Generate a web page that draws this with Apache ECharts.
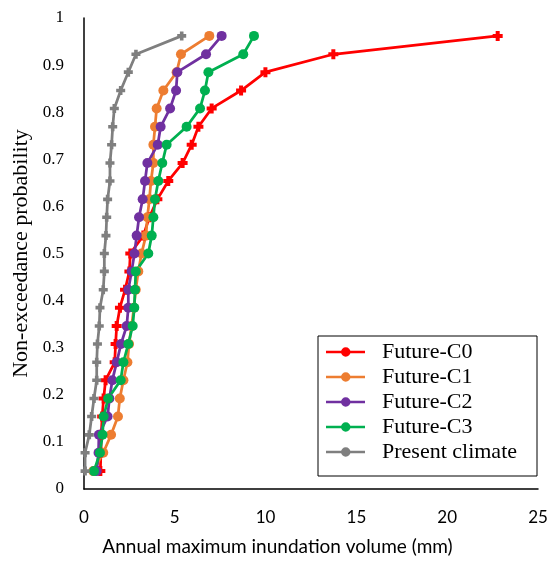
<!DOCTYPE html>
<html>
<head>
<meta charset="utf-8">
<script src="https://cdn.jsdelivr.net/npm/echarts@6/dist/echarts.min.js"></script>
<style>html,body{margin:0;padding:0;background:#fff;}#c{width:551px;height:561px;}</style>
</head>
<body>
<div id="c"></div>
<script>
// Non-exceedance probability (plotting positions)
const probs = [0.038,0.077,0.115,0.154,0.192,0.231,0.269,0.308,0.346,0.385,0.423,0.462,0.5,0.538,0.577,0.615,0.654,0.692,0.731,0.769,0.808,0.846,0.885,0.923,0.962];
// Annual maximum inundation volume (mm)
const futureC0 = [0.90,0.93,0.95,1.00,1.08,1.19,1.69,1.74,1.80,1.98,2.26,2.50,2.55,3.27,3.60,4.04,4.64,5.43,5.93,6.30,7.03,8.65,9.99,13.73,22.78];
const futureC1 = [0.51,1.06,1.49,1.87,1.97,2.17,2.39,2.48,2.62,2.75,2.85,2.99,3.17,3.41,3.49,3.60,3.69,3.82,3.82,3.91,4.00,4.37,5.10,5.34,6.90];
const futureC2 = [0.70,0.80,0.82,1.30,1.40,1.56,1.80,2.04,2.35,2.44,2.44,2.62,2.78,2.90,3.03,3.23,3.36,3.49,4.06,4.22,4.74,5.07,5.14,6.72,7.58];
const futureC3 = [0.55,0.88,1.02,1.08,1.33,2.02,2.17,2.44,2.68,2.77,2.81,2.85,3.54,3.73,3.82,3.91,4.09,4.31,4.55,5.65,6.39,6.66,6.85,8.77,9.36];
const present  = [0.06,0.06,0.29,0.42,0.55,0.70,0.70,0.74,0.84,0.88,1.06,1.12,1.12,1.21,1.25,1.30,1.43,1.43,1.52,1.58,1.67,2.02,2.44,2.86,5.38];
const seriesNames = ['Future-C0','Future-C1','Future-C2','Future-C3','Present climate'];
const xTicks = [0,5,10,15,20,25];
const yTicks = [0,0.1,0.2,0.3,0.4,0.5,0.6,0.7,0.8,0.9,1];

const colors = ['#FF0000','#ED7D31','#7030A0','#00B050','#7F7F7F'];
const allVals = [futureC0,futureC1,futureC2,futureC3,present];
const crossPath = 'path://M3,0H7V3H10V7H7V10H3V7H0V3H3Z';
const symbols = [crossPath,'circle','circle','circle',crossPath];
const sizes = [10,10,10,10,9];
const legendIcon = 'path://M0,3.5H39V6H0Z M15,4.75A4.75,4.75 0 1 1 24.5,4.75A4.75,4.75 0 1 1 15,4.75Z';

const chart = echarts.init(document.getElementById('c'));
chart.setOption({
  animation: false,
  backgroundColor: '#fff',
  grid: {left: 84, right: 13, top: 18, bottom: 72, containLabel: false},
  xAxis: {
    type: 'value', min: 0, max: 25, interval: 5,
    name: 'Annual maximum inundation volume (mm)', nameLocation: 'middle', nameGap: 48,
    nameTextStyle: {fontFamily: 'Lato', fontSize: 19, color: '#000', padding: [0, 67, 0, 0]},
    axisLine: {lineStyle: {color: '#000', width: 1.5}},
    axisTick: {show: false},
    splitLine: {show: false},
    axisLabel: {fontFamily: 'Lato', fontSize: 17, color: '#000', margin: 20,
      formatter: v => xTicks.includes(v) ? String(v) : ''}
  },
  yAxis: {
    type: 'value', min: 0, max: 1, interval: 0.1,
    name: 'Non-exceedance probability', nameLocation: 'middle', nameGap: 51,
    nameTextStyle: {fontFamily: 'Liberation Serif', fontSize: 22, color: '#000'},
    axisLine: {show: true, lineStyle: {color: '#000', width: 1.5}},
    axisTick: {show: false},
    splitLine: {show: false},
    axisLabel: {fontFamily: 'Liberation Serif', fontSize: 17, color: '#000', margin: 20,
      formatter: v => { const t = yTicks.find(y => Math.abs(y - v) < 1e-9); return t === undefined ? '' : String(t); }}
  },
  legend: {
    orient: 'vertical', left: 318, top: 336,
    borderColor: '#000', borderWidth: 1,
    padding: [5, 20, 13, 8],
    itemWidth: 39, itemHeight: 10, itemGap: 3,
    textStyle: {fontFamily: 'Liberation Serif', fontSize: 22, color: '#000', padding: [0, 0, 0, 12]},
    data: seriesNames.map(n => ({name: n, icon: legendIcon}))
  },
  series: seriesNames.map((n, i) => ({
    name: n, type: 'line',
    data: allVals[i].map((v, j) => [v, probs[j]]),
    symbol: symbols[i], symbolSize: sizes[i],
    showAllSymbol: true,
    itemStyle: {color: colors[i]},
    lineStyle: {color: colors[i], width: 2.75},
    emphasis: {disabled: true}
  }))
});
</script>
</body>
</html>
